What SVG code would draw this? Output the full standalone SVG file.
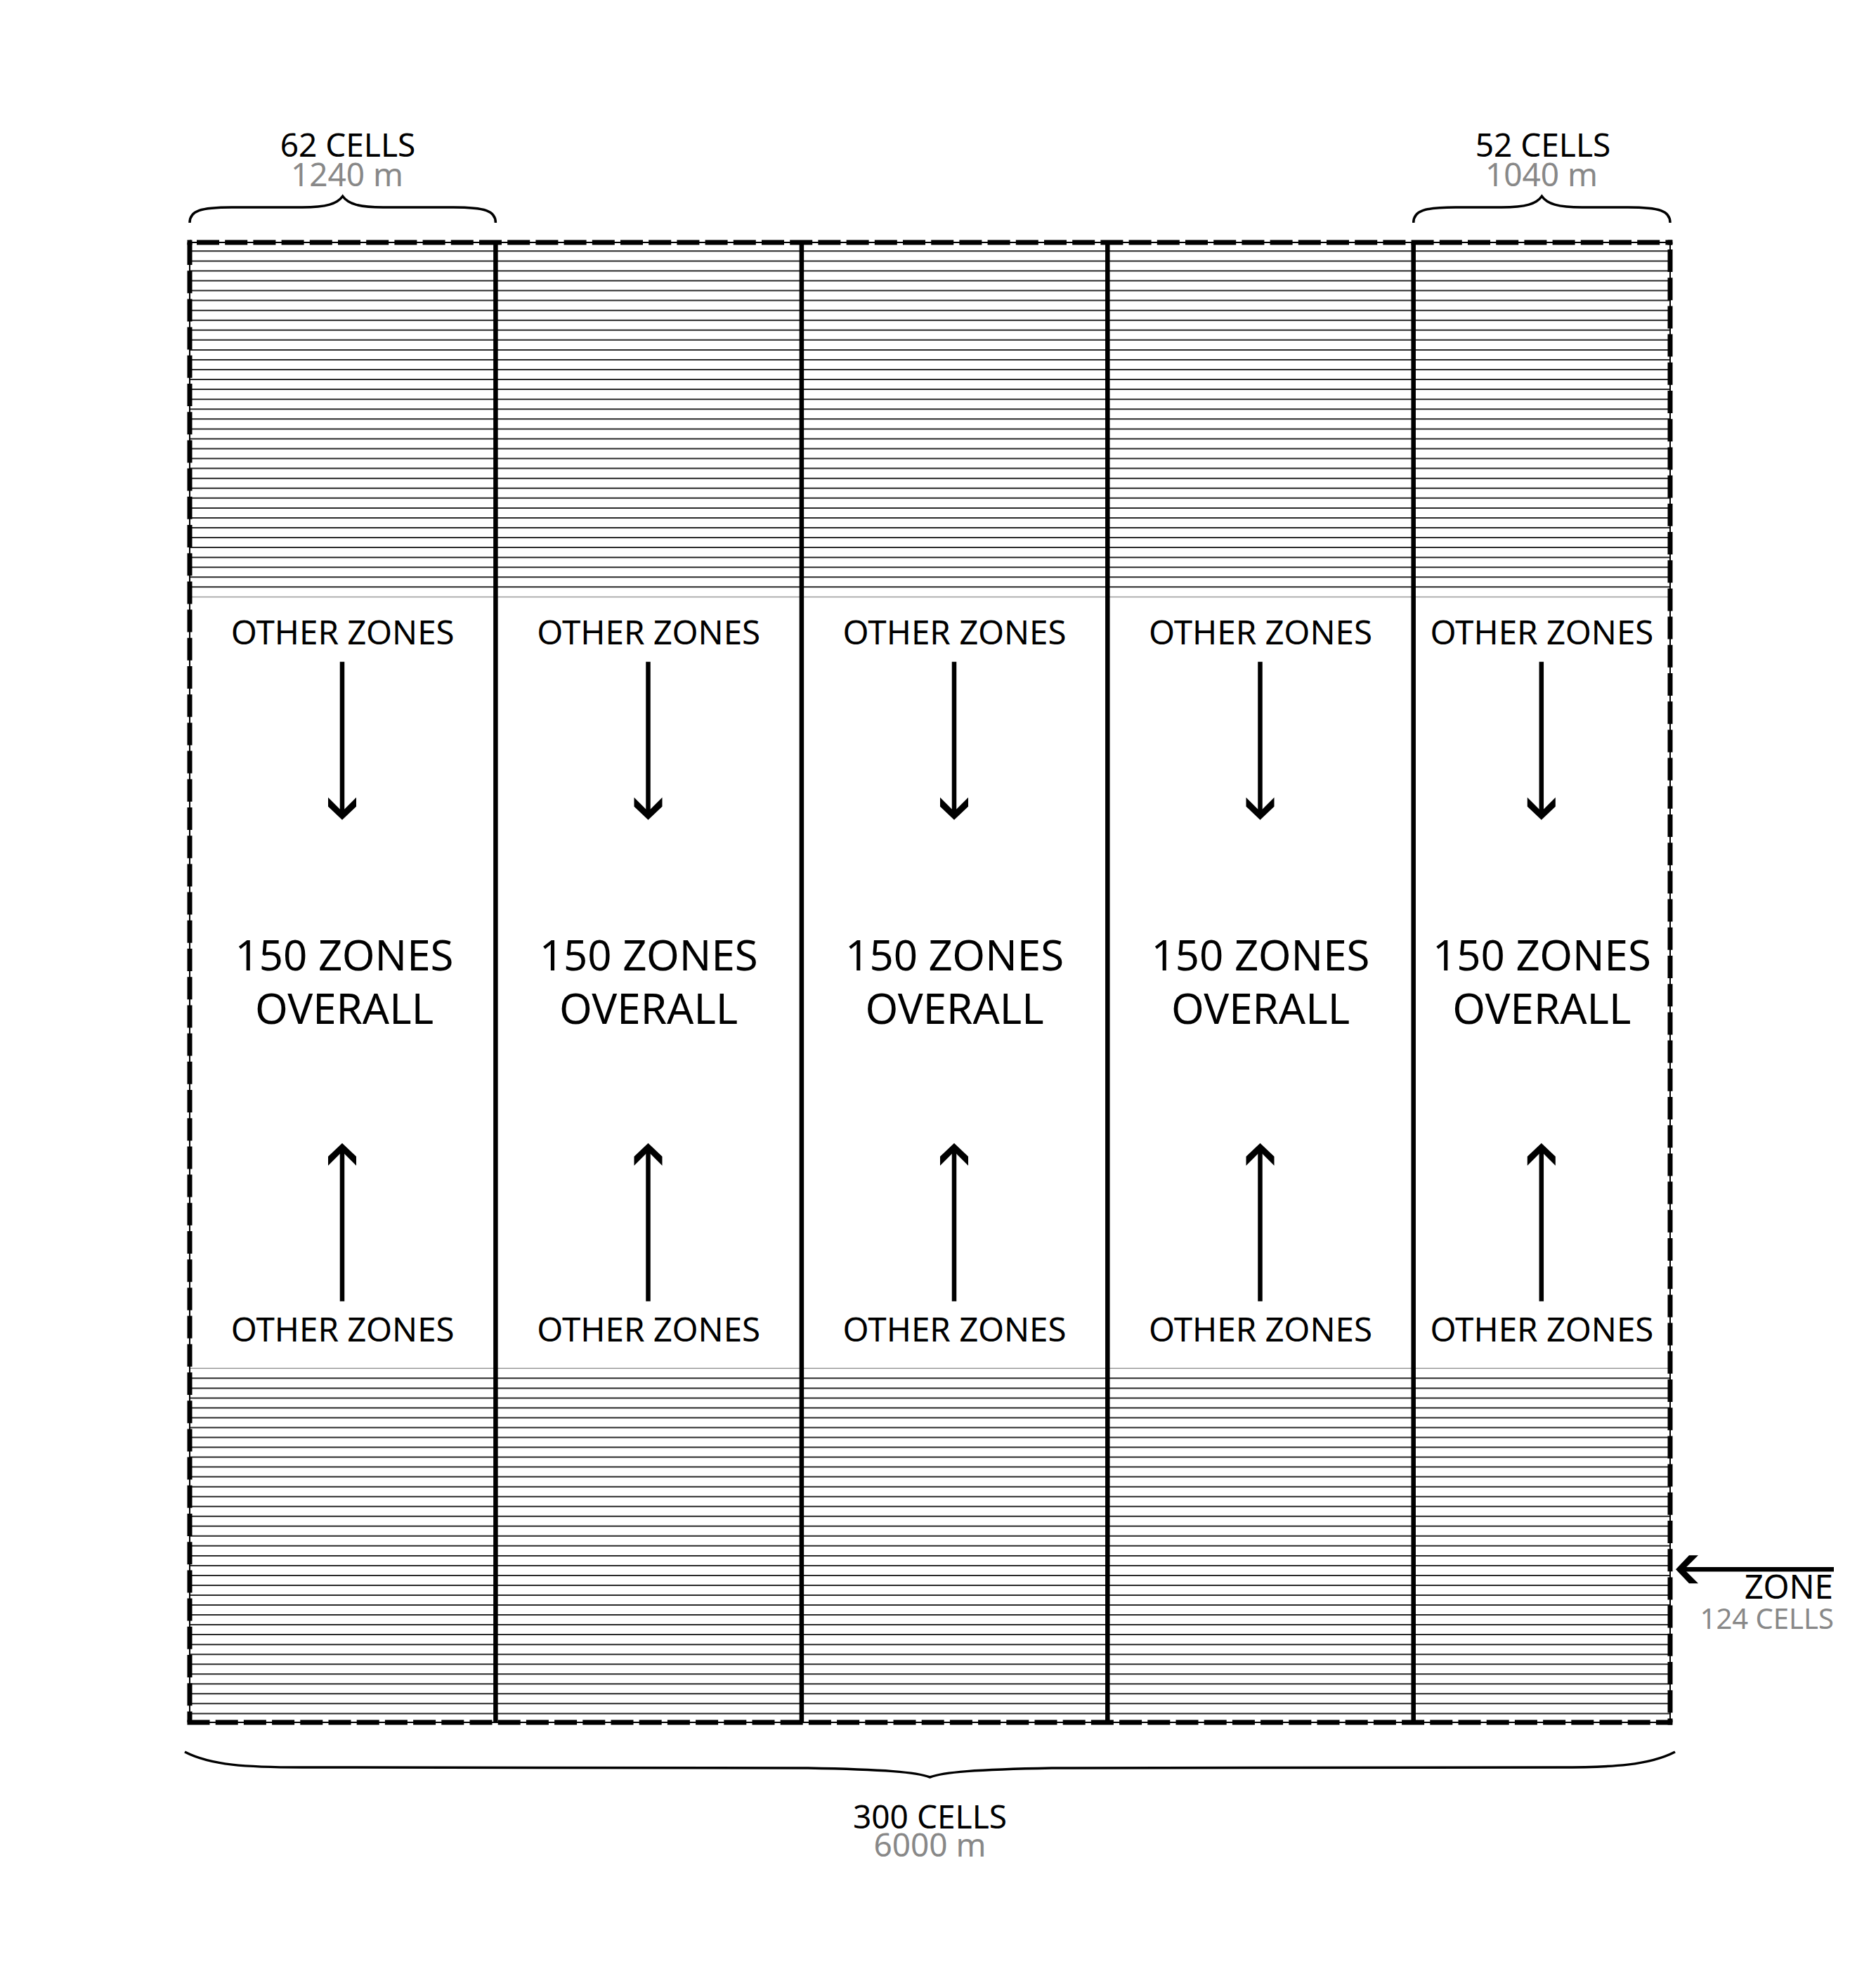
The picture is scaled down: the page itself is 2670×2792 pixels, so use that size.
<svg xmlns="http://www.w3.org/2000/svg" width="2670" height="2792" viewBox="0 0 2670 2792">
<style>
.lbl{font-family:"Noto Sans","Open Sans",sans-serif;font-size:46px;fill:#000;text-anchor:middle}
.oz{font-family:"Noto Sans","Open Sans",sans-serif;font-size:47.5px;fill:#000;text-anchor:middle}
.sub{font-family:"Noto Sans","Open Sans",sans-serif;font-size:46px;fill:#888;text-anchor:middle}
.big{font-family:"Noto Sans","Open Sans",sans-serif;font-size:60px;fill:#000;text-anchor:middle}
.hatch{stroke:#2a2a2a;stroke-width:2;fill:none}
.edge{stroke:#999;stroke-width:1.5;fill:none}
.div{stroke:#000;stroke-width:6.5;fill:none}
.dash{stroke:#000;stroke-width:7;fill:none;stroke-dasharray:32 8.2}
.brace{stroke:#000;stroke-width:3.5;fill:none}
.shaft{stroke:#000;stroke-width:6.5;fill:none}
</style>
<defs>
<path id="ah" d="M0,0 L-20,-19 L-20,-32 L0,-12 L20,-32 L20,-19 Z" fill="#000"/>
</defs>
<rect width="2670" height="2792" fill="#fff"/>

<g id="grid">
<path class="hatch" d="M270 357.3H2377M270 371.4H2377M270 385.4H2377M270 399.5H2377M270 413.5H2377M270 427.6H2377M270 441.7H2377M270 455.7H2377M270 469.8H2377M270 483.8H2377M270 497.9H2377M270 512H2377M270 526H2377M270 540.1H2377M270 554.1H2377M270 568.2H2377M270 582.3H2377M270 596.3H2377M270 610.4H2377M270 624.4H2377M270 638.5H2377M270 652.6H2377M270 666.6H2377M270 680.7H2377M270 694.7H2377M270 708.8H2377M270 722.9H2377M270 736.9H2377M270 751H2377M270 765H2377M270 779.1H2377M270 793.2H2377M270 807.2H2377M270 821.3H2377M270 835.3H2377"/>
<path class="hatch" d="M270 1961.3H2377M270 1975.4H2377M270 1989.4H2377M270 2003.4H2377M270 2017.5H2377M270 2031.5H2377M270 2045.5H2377M270 2059.5H2377M270 2073.6H2377M270 2087.6H2377M270 2101.6H2377M270 2115.7H2377M270 2129.7H2377M270 2143.7H2377M270 2157.8H2377M270 2171.8H2377M270 2185.8H2377M270 2199.8H2377M270 2213.9H2377M270 2227.9H2377M270 2241.9H2377M270 2256H2377M270 2270H2377M270 2284H2377M270 2298.1H2377M270 2312.1H2377M270 2326.1H2377M270 2340.2H2377M270 2354.2H2377M270 2368.2H2377M270 2382.2H2377M270 2396.3H2377M270 2410.3H2377M270 2424.3H2377M270 2438.4H2377"/>
<path class="edge" d="M270 849.4H2377M270 1947.3H2377"/>
<path class="div" d="M705.4 345V2451M1140.9 345V2451M1576.3 345V2451M2011.7 345V2451"/>
<rect x="270" y="345" width="2107" height="2106" fill="none" stroke="#000" stroke-width="2"/>
<line class="dash" x1="270" y1="345" x2="270" y2="2451"/>
<line class="dash" x1="270" y1="345" x2="2380" y2="345" style="stroke-dashoffset:30.2"/>
<line class="dash" x1="2377" y1="345" x2="2377" y2="2451" style="stroke-dashoffset:30.2"/>
<line class="dash" x1="266.5" y1="2451" x2="2380" y2="2451"/>
<rect x="266.5" y="341.5" width="7" height="7" fill="#000"/>
<rect x="2373.5" y="341.5" width="7" height="7" fill="#000"/>
<rect x="2373.5" y="2447.5" width="7" height="7" fill="#000"/>
</g>

<g id="dim-top-left">
<path class="brace" d="M270,317 C270,300 285,295 330,295 L430,295 C465,295 480,290 487.7,279.3 C495.4,290 510.4,295 545.4,295 L645.4,295 C690.4,295 705.4,300 705.4,317"/>
<text class="lbl" x="495" y="223">62 CELLS</text>
<text class="sub" x="494" y="265">1240 m</text>
</g>

<g id="dim-top-right">
<path class="brace" d="M2011.7,317 C2011.7,300 2026.7,295 2071.7,295 L2137,295 C2172,295 2187,290 2194.4,279.3 C2201.8,290 2216.8,295 2251.8,295 L2317,295 C2362,295 2377,300 2377,317"/>
<text class="lbl" x="2196" y="223">52 CELLS</text>
<text class="sub" x="2194" y="265">1040 m</text>
</g>

<g id="dim-bottom">
<path class="brace" d="M263,2493 C300,2512 350,2515 430,2515 L1150,2516 C1260,2518 1305,2522 1323.5,2529 C1342,2522 1387,2518 1497,2516 L2217,2515 C2297,2515 2347,2512 2384,2493"/>
<text class="lbl" x="1323.5" y="2602">300 CELLS</text>
<text class="sub" x="1323.5" y="2642">6000 m</text>
</g>

<g id="zone-label">
<text class="lbl" x="2609" y="2275" style="text-anchor:end;font-size:47.5px">ZONE</text>
<text class="sub" x="2610" y="2318" style="text-anchor:end;font-size:40px">124 CELLS</text>
</g>

<g id="col-1">
<text class="oz" x="487.7" y="917">OTHER ZONES</text>
<text class="big" x="490" y="1381">150 ZONES</text>
<text class="big" x="490" y="1457">OVERALL</text>
<text class="oz" x="487.7" y="1909">OTHER ZONES</text>
</g>
<g id="col-2">
<text class="oz" x="923.2" y="917">OTHER ZONES</text>
<text class="big" x="923.2" y="1381">150 ZONES</text>
<text class="big" x="923.2" y="1457">OVERALL</text>
<text class="oz" x="923.2" y="1909">OTHER ZONES</text>
</g>
<g id="col-3">
<text class="oz" x="1358.6" y="917">OTHER ZONES</text>
<text class="big" x="1358.6" y="1381">150 ZONES</text>
<text class="big" x="1358.6" y="1457">OVERALL</text>
<text class="oz" x="1358.6" y="1909">OTHER ZONES</text>
</g>
<g id="col-4">
<text class="oz" x="1794" y="917">OTHER ZONES</text>
<text class="big" x="1794" y="1381">150 ZONES</text>
<text class="big" x="1794" y="1457">OVERALL</text>
<text class="oz" x="1794" y="1909">OTHER ZONES</text>
</g>
<g id="col-5">
<text class="oz" x="2194.4" y="917">OTHER ZONES</text>
<text class="big" x="2194.4" y="1381">150 ZONES</text>
<text class="big" x="2194.4" y="1457">OVERALL</text>
<text class="oz" x="2194.4" y="1909">OTHER ZONES</text>
</g>

<g id="connectors">
<path class="shaft" d="M487 941.7V1158M487 1634V1851.7M922.5 941.7V1158M922.5 1634V1851.7M1358 941.7V1158M1358 1634V1851.7M1793.5 941.7V1158M1793.5 1634V1851.7M2193.8 941.7V1158M2193.8 1634V1851.7M2392 2233.3H2610"/>
<use href="#ah" transform="translate(487 1166.7)"/>
<use href="#ah" transform="translate(487 1626.7) rotate(180)"/>
<use href="#ah" transform="translate(922.5 1166.7)"/>
<use href="#ah" transform="translate(922.5 1626.7) rotate(180)"/>
<use href="#ah" transform="translate(1358 1166.7)"/>
<use href="#ah" transform="translate(1358 1626.7) rotate(180)"/>
<use href="#ah" transform="translate(1793.5 1166.7)"/>
<use href="#ah" transform="translate(1793.5 1626.7) rotate(180)"/>
<use href="#ah" transform="translate(2193.8 1166.7)"/>
<use href="#ah" transform="translate(2193.8 1626.7) rotate(180)"/>
<use href="#ah" transform="translate(2385 2233.3) rotate(90)"/>
</g>
</svg>
